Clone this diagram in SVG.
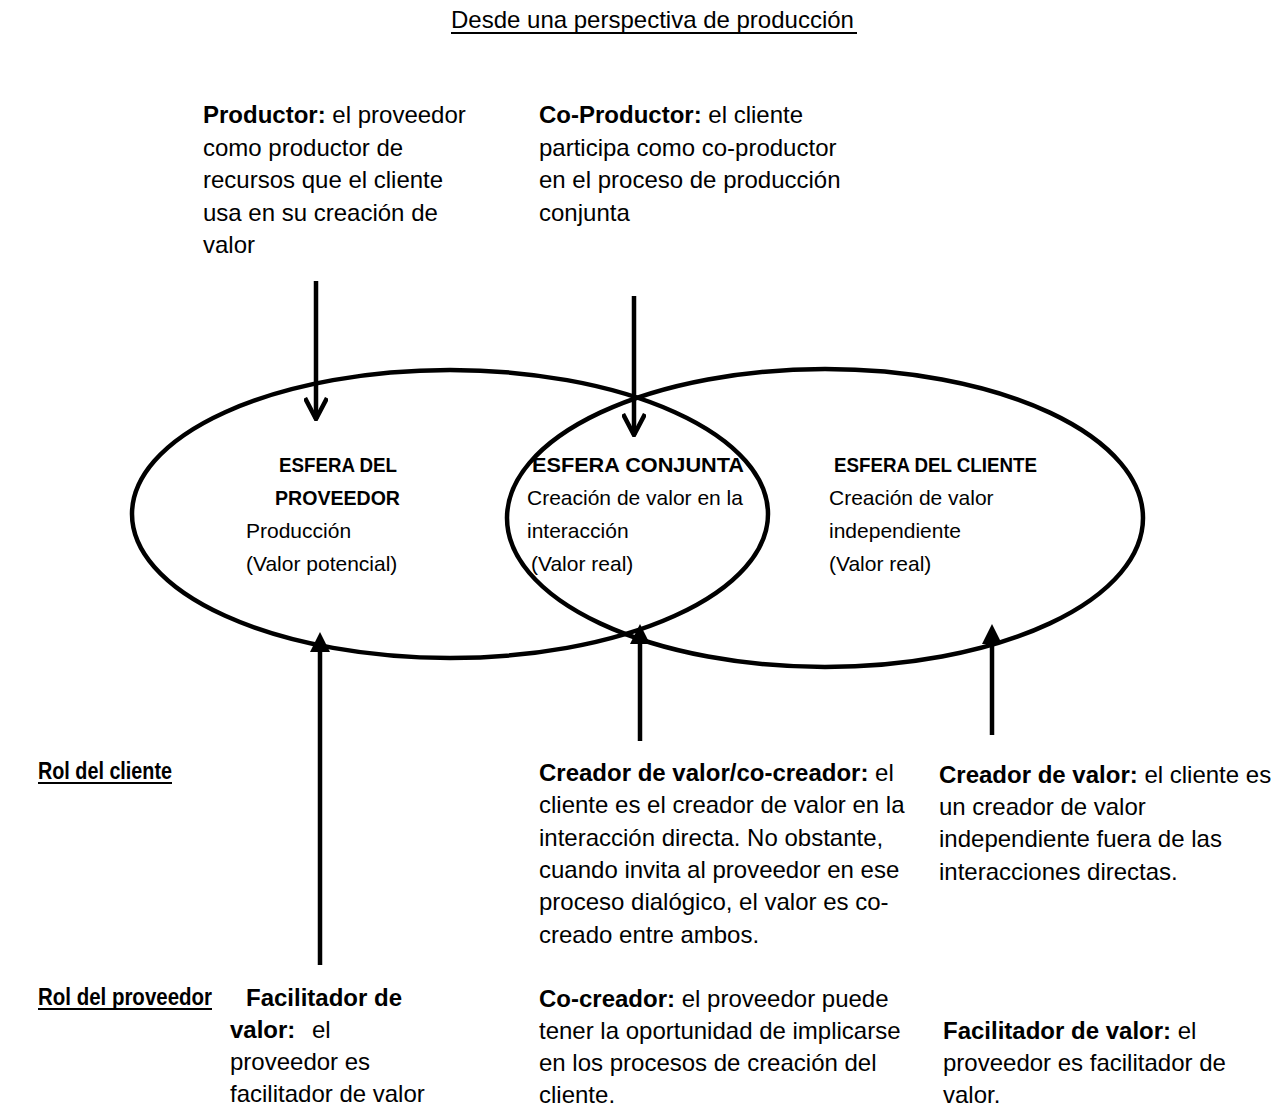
<svg xmlns="http://www.w3.org/2000/svg" width="1280" height="1113" viewBox="0 0 1280 1113">
  <style>
    text { font-family: "Liberation Sans", Arial, sans-serif; fill: #000; }
    .t { font-size: 24px; }
    .s { font-size: 21px; }
    .r { font-size: 23px; font-weight: bold; }
    .b { font-weight: bold; }
    .sphere { fill: none; stroke: #000; stroke-width: 4.5; }
    .shaft { fill: none; stroke: #000; stroke-width: 4.5; }
    .ul { stroke: #000; stroke-width: 2; }
  </style>
  <defs>
    <!-- open chevron head for the downward arrows -->
    <marker id="open" viewBox="0 0 24 24" markerWidth="24" markerHeight="24" refX="22" refY="12" orient="auto" markerUnits="userSpaceOnUse">
      <path d="M1,1 L22,12 L1,23" fill="none" stroke="#000" stroke-width="4.5"/>
    </marker>
  </defs>
  <rect width="1280" height="1113" fill="#fff"/>

  <!-- heading -->
  <g id="heading">
    <text class="t" x="451" y="28">Desde una perspectiva de producción</text>
    <line class="ul" x1="451" y1="33" x2="857" y2="33"/>
  </g>

  <!-- spheres -->
  <g id="provider-sphere">
    <ellipse class="sphere" cx="450" cy="514" rx="318" ry="144"/>
    <text class="s b" x="279" y="472" textLength="118" lengthAdjust="spacingAndGlyphs">ESFERA DEL</text>
    <text class="s b" x="275" y="505" textLength="125" lengthAdjust="spacingAndGlyphs">PROVEEDOR</text>
    <text class="s" x="246" y="538">Producción</text>
    <text class="s" x="246" y="571">(Valor potencial)</text>
  </g>
  <g id="customer-sphere">
    <ellipse class="sphere" cx="825" cy="518" rx="318" ry="149"/>
    <text class="s b" x="834" y="472" textLength="203" lengthAdjust="spacingAndGlyphs">ESFERA DEL CLIENTE</text>
    <text class="s" x="829" y="505">Creación de valor</text>
    <text class="s" x="829" y="538">independiente</text>
    <text class="s" x="829" y="571">(Valor real)</text>
  </g>
  <g id="joint-sphere">
    <text class="s b" x="532" y="472" textLength="212" lengthAdjust="spacingAndGlyphs">ESFERA CONJUNTA</text>
    <text class="s" x="527" y="505">Creación de valor en la</text>
    <text class="s" x="527" y="538">interacción</text>
    <text class="s" x="531" y="571">(Valor real)</text>
  </g>

  <!-- connectors -->
  <g id="connectors">
    <line class="shaft" x1="316" y1="281" x2="316" y2="419" marker-end="url(#open)"/>
    <line class="shaft" x1="634" y1="296" x2="634" y2="435" marker-end="url(#open)"/>
    <line class="shaft" x1="320" y1="965" x2="320" y2="648"/>
    <polygon points="320,632 310,652 330,652" fill="#000"/>
    <line class="shaft" x1="640" y1="741" x2="640" y2="640"/>
    <polygon points="640,624 630,644 650,644" fill="#000"/>
    <line class="shaft" x1="992" y1="735" x2="992" y2="640"/>
    <polygon points="992,624 982,644 1002,644" fill="#000"/>
  </g>

  <!-- production roles -->
  <g id="productor">
    <text class="t" x="203" y="123"><tspan class="b">Productor:</tspan> el proveedor</text>
    <text class="t" x="203" y="156">como productor de</text>
    <text class="t" x="203" y="188">recursos que el cliente</text>
    <text class="t" x="203" y="221">usa en su creación de</text>
    <text class="t" x="203" y="253">valor</text>
  </g>
  <g id="co-productor">
    <text class="t" x="539" y="123"><tspan class="b">Co-Productor:</tspan> el cliente</text>
    <text class="t" x="539" y="156">participa como co-productor</text>
    <text class="t" x="539" y="188">en el proceso de producción</text>
    <text class="t" x="539" y="221">conjunta</text>
  </g>

  <!-- row labels -->
  <g id="rol-cliente">
    <text class="r" x="38" y="779" textLength="134" lengthAdjust="spacingAndGlyphs">Rol del cliente</text>
    <line class="ul" x1="38" y1="783" x2="172" y2="783"/>
  </g>
  <g id="rol-proveedor">
    <text class="r" x="38" y="1005" textLength="174" lengthAdjust="spacingAndGlyphs">Rol del proveedor</text>
    <line class="ul" x1="38" y1="1009" x2="212" y2="1009"/>
  </g>

  <!-- customer roles -->
  <g id="co-creador-cliente">
    <text class="t" x="539" y="781"><tspan class="b">Creador de valor/co-creador:</tspan> el</text>
    <text class="t" x="539" y="813">cliente es el creador de valor en la</text>
    <text class="t" x="539" y="846">interacción directa. No obstante,</text>
    <text class="t" x="539" y="878">cuando invita al proveedor en ese</text>
    <text class="t" x="539" y="910">proceso dialógico, el valor es co-</text>
    <text class="t" x="539" y="943">creado entre ambos.</text>
  </g>
  <g id="creador-cliente">
    <text class="t" x="939" y="783"><tspan class="b">Creador de valor:</tspan> el cliente es</text>
    <text class="t" x="939" y="815">un creador de valor</text>
    <text class="t" x="939" y="847">independiente fuera de las</text>
    <text class="t" x="939" y="880">interacciones directas.</text>
  </g>

  <!-- provider roles -->
  <g id="facilitador-proveedor">
    <text class="t b" x="246" y="1006">Facilitador de</text>
    <text class="t" x="230" y="1038"><tspan class="b">valor:</tspan><tspan x="312">el</tspan></text>
    <text class="t" x="230" y="1070">proveedor es</text>
    <text class="t" x="230" y="1102">facilitador de valor</text>
  </g>
  <g id="co-creador-proveedor">
    <text class="t" x="539" y="1007"><tspan class="b">Co-creador:</tspan> el proveedor puede</text>
    <text class="t" x="539" y="1039">tener la oportunidad de implicarse</text>
    <text class="t" x="539" y="1071">en los procesos de creación del</text>
    <text class="t" x="539" y="1103">cliente.</text>
  </g>
  <g id="facilitador-cliente">
    <text class="t" x="943" y="1039"><tspan class="b">Facilitador de valor:</tspan> el</text>
    <text class="t" x="943" y="1071">proveedor es facilitador de</text>
    <text class="t" x="943" y="1103">valor.</text>
  </g>
</svg>
